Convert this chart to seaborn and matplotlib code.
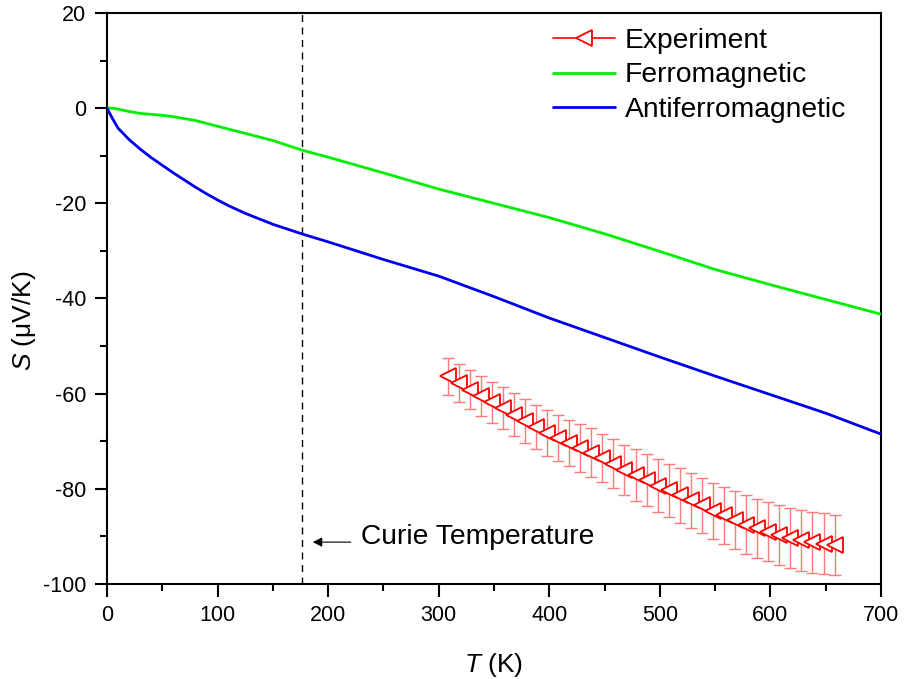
import numpy as np
import pandas as pd
import seaborn as sns
import matplotlib
matplotlib.use("Agg")
import matplotlib.pyplot as plt

# ---------------- data ----------------
T_ferro = [0, 5, 10, 20, 30, 40, 50, 60, 70, 80, 90, 100, 125, 150, 176, 200,
           250, 300, 350, 400, 450, 500, 550, 600, 650, 700]
S_ferro = [0.0, 0.0, -0.2, -0.7, -1.1, -1.3, -1.5, -1.8, -2.2, -2.6, -3.2, -3.8,
           -5.3, -6.8, -8.8, -10.3, -13.6, -17.0, -20.0, -23.0, -26.4, -30.1,
           -33.9, -37.1, -40.2, -43.3]

T_anti = [0, 5, 10, 20, 30, 40, 50, 60, 70, 80, 90, 100, 110, 125, 150, 176,
          200, 250, 300, 350, 400, 450, 500, 550, 600, 650, 700]
S_anti = [0.0, -2.2, -4.2, -6.6, -8.6, -10.4, -12.0, -13.6, -15.1, -16.6,
          -18.0, -19.3, -20.5, -22.1, -24.4, -26.4, -28.1, -31.8, -35.3, -39.6,
          -44.1, -48.2, -52.3, -56.3, -60.2, -64.1, -68.5]

T_exp = [308, 318, 328, 338, 348, 358, 368, 378, 388, 398, 408, 418, 428, 438,
         448, 458, 468, 478, 488, 498, 508, 518, 528, 538, 548, 558, 568, 578,
         588, 598, 608, 618, 628, 638, 648, 658]
S_exp = [-56.3, -57.8, -59.2, -60.5, -61.8, -63.0, -64.4, -65.7, -67.0, -68.2,
         -69.3, -70.4, -71.4, -72.4, -73.5, -74.7, -76.0, -77.1, -78.2, -79.3,
         -80.3, -81.4, -82.4, -83.5, -84.6, -85.6, -86.6, -87.5, -88.3, -89.0,
         -89.7, -90.3, -90.8, -91.2, -91.5, -91.8]
S_err = [3.9, 4.0, 4.1, 4.2, 4.3, 4.4, 4.5, 4.6, 4.7, 4.8, 4.9, 4.9, 5.0, 5.1,
         5.1, 5.2, 5.3, 5.4, 5.5, 5.6, 5.6, 5.7, 5.8, 5.8, 5.9, 6.0, 6.1, 6.1,
         6.2, 6.2, 6.3, 6.3, 6.4, 6.4, 6.4, 6.4]

T_curie = 176
x_ticks = [0, 100, 200, 300, 400, 500, 600, 700]
y_ticks = [20, 0, -20, -40, -60, -80, -100]

# ---------------- style ----------------
sns.set_theme(style="ticks")
plt.rcParams["font.family"] = ["Liberation Sans", "DejaVu Sans"]
plt.rcParams["mathtext.fontset"] = "custom"
plt.rcParams["mathtext.it"] = "Liberation Sans:italic"
plt.rcParams["mathtext.rm"] = "Liberation Sans"
plt.rcParams["axes.unicode_minus"] = False
plt.rcParams["text.color"] = "black"
plt.rcParams["axes.labelcolor"] = "black"
plt.rcParams["xtick.color"] = "black"
plt.rcParams["ytick.color"] = "black"

fig = plt.figure(figsize=(9.05, 6.79), dpi=100)
ax = fig.add_axes([107 / 905, 1 - 584 / 679, 774 / 905, 571 / 679])

df_f = pd.DataFrame({"T": T_ferro, "S": S_ferro})
df_a = pd.DataFrame({"T": T_anti, "S": S_anti})
df_e = pd.DataFrame({"T": T_exp, "S": S_exp, "err": S_err})

ax.axvline(T_curie, color="black", lw=1.0, ls=(0, (5, 4)), zorder=1)

ax.errorbar(df_e["T"], df_e["S"], yerr=df_e["err"], fmt="none",
            ecolor="#ff7a7a", elinewidth=1.0, capsize=4, capthick=1.0, zorder=2)
sns.lineplot(data=df_e, x="T", y="S", ax=ax, color="#ff0000", lw=1.2,
             marker="<", markersize=12, markerfacecolor="white",
             markeredgecolor="#ff0000", markeredgewidth=1.3,
             label="Experiment", zorder=3)
sns.lineplot(data=df_f, x="T", y="S", ax=ax, color="#00ee00", lw=2.0,
             label="Ferromagnetic", zorder=4)
sns.lineplot(data=df_a, x="T", y="S", ax=ax, color="#0000ee", lw=2.0,
             label="Antiferromagnetic", zorder=4)

ax.set_xlim(0, 700)
ax.set_ylim(-100, 20)
ax.set_xticks(x_ticks)
ax.set_yticks(y_ticks)
ax.set_xticks([50, 150, 250, 350, 450, 550, 650], minor=True)
ax.set_yticks([10, -10, -30, -50, -70, -90], minor=True)
ax.tick_params(which="major", direction="out", length=9, width=1.5,
               labelsize=15.5, pad=6, top=False, right=False,
               colors="black", labelcolor="black")
ax.tick_params(which="minor", direction="out", length=5, width=1.5,
               top=False, right=False, colors="black")
for s in ax.spines.values():
    s.set_linewidth(1.5)
    s.set_color("black")
    s.set_visible(True)

ax.set_xlabel("$T$ (K)", fontsize=19, labelpad=18, color="black")
ax.set_ylabel("$S$ (μV/K)", fontsize=19, color="black")
ax.yaxis.set_label_coords(-0.089, 0.462)

ax.annotate("", xy=(183.5, -91.2), xytext=(223, -91.2),
            arrowprops=dict(arrowstyle="-|>", color="black", lw=0.8,
                            mutation_scale=14))
ax.text(230, -90.1, "Curie Temperature", fontsize=20.3, va="center",
        ha="left", color="black")

leg = ax.legend(loc="upper left", bbox_to_anchor=(553 / 905, 1 - 28 / 679),
                bbox_transform=fig.transFigure, frameon=False, fontsize=20.3,
                handlelength=2.2, handletextpad=0.35, labelspacing=0.3,
                borderpad=0, borderaxespad=0)
for t in leg.get_texts():
    t.set_color("black")

fig.savefig("out.png", dpi=100)
